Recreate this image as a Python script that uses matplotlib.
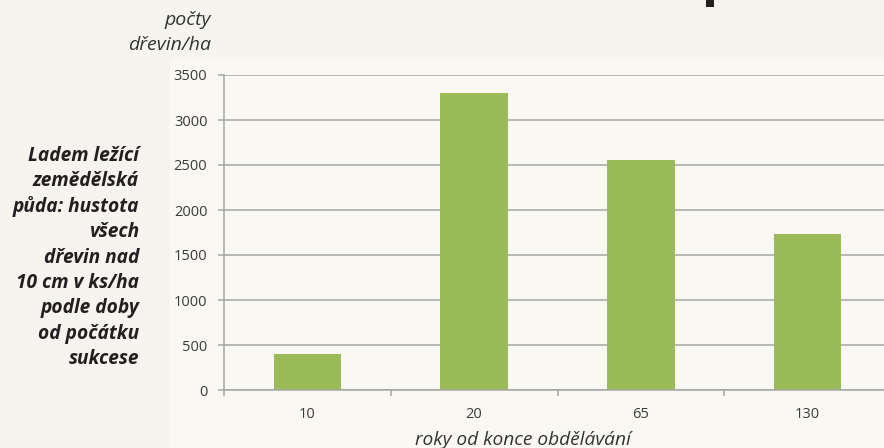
import matplotlib
matplotlib.use('Agg')
import matplotlib.pyplot as plt
from matplotlib.patches import Rectangle

years = ['10', '20', '65', '130']
trees_per_ha = [400, 3300, 2560, 1730]
y_ticks = [0, 500, 1000, 1500, 2000, 2500, 3000, 3500]
side_lines = ['Ladem ležící', 'zemědělská', 'půda: hustota', 'všech', 'dřevin nad',
              '10 cm v ks/ha', 'podle doby', 'od počátku', 'sukcese']
unit_lines = ['počty', 'dřevin/ha']
x_title = 'roky od konce obdělávání'

W, H = 884, 448
BG = '#f5f4ee'
PANEL = '#faf8f3'
GREEN = '#9bbb59'
GRID = '#a6a6a6'
FONT = 'Open Sans'

def fx(px): return px / W
def fy(py): return 1 - py / H

fig = plt.figure(figsize=(W / 100, H / 100), dpi=100, facecolor=BG)

# lighter chart panel behind the plot
fig.patches.append(Rectangle((fx(170), 0), 1 - fx(170), fy(60), transform=fig.transFigure,
                             facecolor=PANEL, edgecolor='none', zorder=-10))
# bit of a heading glyph poking in from above
fig.patches.append(Rectangle((fx(706), fy(7)), fx(8), 7 / H, transform=fig.transFigure,
                             facecolor='#231f20', edgecolor='none', zorder=-5))

ax = fig.add_axes([fx(224), fy(390), fx(891) - fx(224), fy(75) - fy(390)], zorder=2)
ax.set_facecolor('none')
x = range(len(years))
ax.bar(x, trees_per_ha, width=0.405, color=GREEN, zorder=3)

ax.set_xlim(-0.5, len(years) - 0.5)
ax.set_ylim(0, 3500)
ax.set_yticks(y_ticks)
ax.set_yticklabels([str(v) for v in y_ticks])
ax.set_xticks(list(x))
ax.set_xticklabels(years)
ax.set_xticks([i - 0.5 for i in range(len(years) + 1)], minor=True)
ax.yaxis.grid(True, color=GRID, lw=1.1, zorder=1)
ax.set_axisbelow(True)

for s in ('top', 'right'):
    ax.spines[s].set_visible(False)
for s in ('left', 'bottom'):
    ax.spines[s].set_color(GRID)
    ax.spines[s].set_linewidth(1.1)
ax.spines['bottom'].set_zorder(4)

ax.tick_params(axis='y', length=4, width=1.1, color=GRID, pad=8, labelsize=10.5,
               labelcolor='#3a3a3a', labelfontfamily=FONT)
ax.tick_params(axis='x', which='major', length=0, pad=12, labelsize=10.5,
               labelcolor='#3a3a3a', labelfontfamily=FONT)
ax.tick_params(axis='x', which='minor', length=4, width=1.1, color=GRID, direction='out')

fig.text(fx(523), fy(440), x_title, ha='center', va='center', style='italic',
         fontsize=13.8, family=FONT, color='#333333')

for i, line in enumerate(unit_lines):
    fig.text(fx(211), fy(20 + 25 * i), line, ha='right', va='center', style='italic',
             fontsize=14, family=FONT, color='#333333')

for i, line in enumerate(side_lines):
    fig.text(fx(139), fy(156 + 25.4 * i), line, ha='right', va='center', style='italic',
             weight='bold', fontsize=13.8, family=FONT, color='#231f20')

fig.savefig('out.png', dpi=100, facecolor=BG)
